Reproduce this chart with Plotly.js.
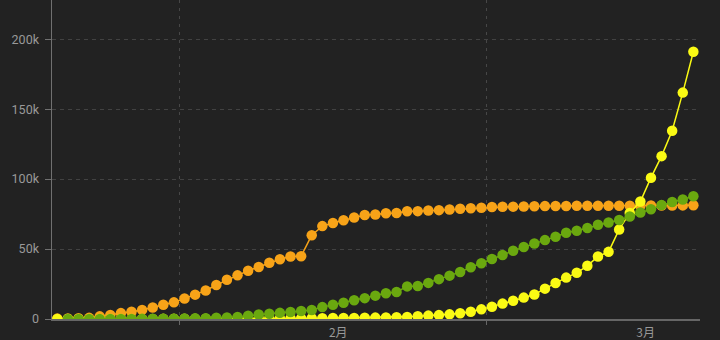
<!DOCTYPE html>
<html>
<head>
<meta charset="utf-8">
<script src="https://cdn.plot.ly/plotly-3.0.1.min.js"></script>
<style>
  html, body { margin: 0; padding: 0; background: #222222; }
  #chart { width: 720px; height: 340px; }
</style>
</head>
<body>
<div id="chart"></div>
<script>
// Dates: 2020-01-20 .. 2020-03-20 (61 days)
const dates = [
  "2020-01-20","2020-01-21","2020-01-22","2020-01-23","2020-01-24","2020-01-25","2020-01-26","2020-01-27","2020-01-28","2020-01-29",
  "2020-01-30","2020-01-31","2020-02-01","2020-02-02","2020-02-03","2020-02-04","2020-02-05","2020-02-06","2020-02-07","2020-02-08",
  "2020-02-09","2020-02-10","2020-02-11","2020-02-12","2020-02-13","2020-02-14","2020-02-15","2020-02-16","2020-02-17","2020-02-18",
  "2020-02-19","2020-02-20","2020-02-21","2020-02-22","2020-02-23","2020-02-24","2020-02-25","2020-02-26","2020-02-27","2020-02-28",
  "2020-02-29","2020-03-01","2020-03-02","2020-03-03","2020-03-04","2020-03-05","2020-03-06","2020-03-07","2020-03-08","2020-03-09",
  "2020-03-10","2020-03-11","2020-03-12","2020-03-13","2020-03-14","2020-03-15","2020-03-16","2020-03-17","2020-03-18","2020-03-19",
  "2020-03-20"
];

// Orange series
const orangeValues = [
  291, 440, 571, 830, 1900, 2900, 4200, 5200, 6500, 8200,
  10200, 11900, 14600, 17400, 20400, 24300, 28000, 31200, 34500, 37200,
  40200, 42700, 44700, 44900, 59900, 66400, 68600, 70600, 72500, 74300,
  74700, 75600, 75800, 77000, 77100, 77500, 77800, 78300, 78800, 79100,
  79500, 80000, 80200, 80300, 80400, 80600, 80700, 80800, 80800, 80900,
  80900, 80900, 81000, 81000, 81000, 81000, 81100, 81100, 81100, 81200,
  81300
];

// Yellow series
const yellowValues = [
  4, 6, 8, 14, 21, 28, 43, 50, 64, 87,
  105, 118, 136, 153, 159, 173, 203, 251, 274, 297,
  315, 366, 397, 442, 514, 528, 683, 794, 804, 896,
  1001, 1123, 1279, 1493, 1964, 2415, 2797, 3330, 4149, 5227,
  6900, 8700, 11000, 13000, 15300, 17500, 21700, 25700, 29600, 33000,
  38000, 44700, 48000, 64000, 75800, 84000, 101000, 116400, 134500, 161800,
  191000
];

// Green series
const greenValues = [
  null, 25, 28, 30, 36, 39, 52, 61, 107, 126,
  143, 222, 284, 472, 623, 852, 1124, 1487, 2400, 3200,
  3800, 4400, 5000, 5700, 6400, 8500, 10200, 11600, 13400, 14900,
  16700, 18400, 19300, 23300, 23600, 25800, 28500, 31000, 33600, 37000,
  39800, 42900, 45700, 48800, 51500, 54000, 56400, 58800, 61600, 63100,
  65100, 67400, 69000, 70700, 73300, 76100, 78400, 81400, 83600, 85400,
  87700
];

// Axis ticks
const gridTickDates = ["2020-01-31 12:00", "2020-02-29 12:00"];
const monthLabelDates = ["2020-02-15 12:00", "2020-03-15 12:00"];
const monthLabels = ["2月", "3月"];
const yTickValues = [0, 50000, 100000, 150000, 200000];
const yTickLabels = ["0", "50k", "100k", "150k", "200k"];

const xRange = ["2020-01-19 12:00", "2020-03-20 15:00"];

function series(y, color) {
  return {
    type: "scatter",
    mode: "lines+markers",
    x: dates,
    y: y,
    line: { color: color, width: 1.5 },
    marker: { color: color, size: 10.5 },
    connectgaps: false,
    hoverinfo: "skip"
  };
}

const traces = [
  series(orangeValues, "#f7a318"),
  series(yellowValues, "#fafa14"),
  series(greenValues, "#6aa80f"),
  { type: "scatter", x: [], y: [], xaxis: "x2", hoverinfo: "skip", showlegend: false }
];

const gray = "#999999";
const layout = {
  width: 720,
  height: 340,
  paper_bgcolor: "#222222",
  plot_bgcolor: "#222222",
  margin: { l: 52, r: 20, t: 0, b: 21 },
  showlegend: false,
  font: { family: "Roboto, 'Open Sans', sans-serif", size: 12, color: gray },
  xaxis: {
    type: "date",
    range: xRange,
    tickmode: "array",
    tickvals: gridTickDates,
    showticklabels: false,
    showgrid: true,
    gridcolor: "#474747",
    griddash: "3px,5px",
    gridwidth: 1,
    showline: true,
    linecolor: "#666666",
    linewidth: 1.5,
    ticks: "outside",
    ticklen: 4,
    tickcolor: "#666666",
    zeroline: false,
    fixedrange: true
  },
  xaxis2: {
    type: "date",
    overlaying: "x",
    matches: "x",
    anchor: "y",
    side: "bottom",
    range: xRange,
    tickmode: "array",
    tickvals: monthLabelDates,
    ticktext: monthLabels,
    showgrid: false,
    showline: false,
    ticks: "",
    ticklabelstandoff: 5,
    zeroline: false,
    tickfont: { family: "'Noto Sans CJK SC', Roboto, sans-serif", size: 12, color: gray },
    fixedrange: true
  },
  yaxis: {
    range: [0, 228000],
    tickmode: "array",
    tickvals: yTickValues,
    ticktext: yTickLabels,
    showgrid: true,
    gridcolor: "#424242",
    griddash: "4px,4px",
    gridwidth: 1,
    showline: true,
    linecolor: "#707070",
    linewidth: 1.5,
    ticks: "outside",
    ticklen: 6,
    tickcolor: "#707070",
    ticklabelstandoff: 3,
    zeroline: false,
    tickfont: { size: 12.5, color: gray },
    fixedrange: true
  }
};

Plotly.newPlot("chart", traces, layout, { displayModeBar: false, staticPlot: true });
</script>
</body>
</html>
